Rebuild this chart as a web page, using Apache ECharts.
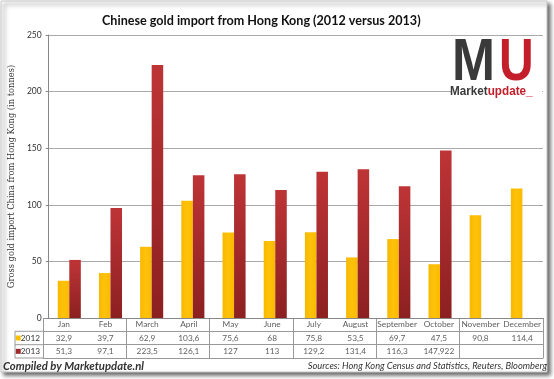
<!DOCTYPE html>
<html><head><meta charset="utf-8">
<script src="https://cdn.jsdelivr.net/npm/echarts@6/dist/echarts.min.js"></script>
<style>html,body{margin:0;padding:0;background:#fff}#c{width:554px;height:379px}</style>
</head><body><div id="c"></div>
<script>
const months = ['Jan','Feb','March','April','May','June','July','August','September','October','November','December'];
const values2012 = [32.9,39.7,62.9,103.6,75.6,68,75.8,53.5,69.7,47.5,90.8,114.4];
const values2013 = [51.3,97.1,223.5,126.1,127,113,129.2,131.4,116.3,147.922,null,null];
const seriesNames = ['2012','2013'];
const yTicks = [0,50,100,150,200,250];

const FONT = 'Lato';
const C2012 = '#FFC000';
const C2013 = '#9E2A2B';
const fmt = v => v == null ? '' : String(v).replace('.', ',');

const chart = echarts.init(document.getElementById('c'), null, {renderer:'canvas'});
const textSeries = (data) => ({
  type:'scatter', xAxisIndex:1, yAxisIndex:1, symbolSize:0, silent:true,
  data: data,
  label:{show:true, position:'inside', formatter:p=>p.value[2], fontFamily:FONT, fontSize:8.3, color:'#333'}
});
chart.setOption({
  animation:false,
  textStyle:{fontFamily:FONT},
  title:{text:'Chinese gold import from Hong Kong (2012 versus 2013)', left:97, top:9,
    textStyle:{fontFamily:FONT, fontSize:12.6, fontWeight:'bold', color:'#111'}},
  grid:[
    {left:43, right:11, top:35, bottom:61},
    {left:43, right:11, top:318, height:40}
  ],
  xAxis:[
    {type:'category', gridIndex:0, data:months, axisLabel:{show:false}, axisTick:{show:false},
     axisLine:{lineStyle:{color:'#888'}}},
    {type:'category', gridIndex:1, data:months, axisLabel:{show:false}, axisTick:{show:false},
     axisLine:{lineStyle:{color:'#999'}},
     splitLine:{show:true, lineStyle:{color:'#999', width:1}}}
  ],
  yAxis:[
    {type:'value', gridIndex:0, min:yTicks[0], max:yTicks[yTicks.length-1], interval:50,
     name:'Gross gold import China from Hong Kong (in tonnes)', nameLocation:'middle', nameGap:27,
     nameTextStyle:{fontFamily:'DejaVu Serif', fontSize:8.3, color:'#333'},
     axisLine:{show:true, lineStyle:{color:'#888'}},
     axisTick:{show:true, length:3, lineStyle:{color:'#888'}},
     axisLabel:{fontFamily:FONT, fontSize:8.5, color:'#333', margin:7},
     splitLine:{lineStyle:{color:'#aaa'}}},
    {type:'category', gridIndex:1, data:['2013','2012',''],
     axisLine:{show:false}, axisTick:{show:false},
     splitLine:{show:true, lineStyle:{color:'#999'}},
     axisLabel:{margin:3, fontFamily:FONT, fontSize:8.3, color:'#333',
       formatter:v=> v==='2012' ? '{a| }'+v : (v==='2013' ? '{b| }'+v : ''),
       rich:{a:{backgroundColor:C2012, width:5, height:5, fontSize:5, padding:0},
             b:{backgroundColor:C2013, width:5, height:5, fontSize:5, padding:0}}}}
  ],
  series:[
    {name:seriesNames[0], type:'bar', data:values2012, barGap:'0%', barCategoryGap:'44%',
     itemStyle:{color:new echarts.graphic.LinearGradient(0,0,1,0,[{offset:0,color:'#F7B800'},{offset:0.5,color:'#FFC20A'},{offset:1,color:'#F9BA00'}])}},
    {name:seriesNames[1], type:'bar', data:values2013, barGap:'0%', barCategoryGap:'44%',
     itemStyle:{color:new echarts.graphic.LinearGradient(0,0,0,1,[{offset:0,color:'#BE3436'},{offset:1,color:'#8C2021'}])}},
    textSeries(months.map((m,i)=>[i,2,m])),
    textSeries(values2012.map((v,i)=>[i,1,fmt(v)])),
    textSeries(values2013.map((v,i)=>[i,0,fmt(v)]))
  ],
  graphic:[
    {type:'rect', z:-10, shape:{x:1, y:1, width:546, height:371},
     style:{fill:'#fff', stroke:'#c8c8c8', lineWidth:1, shadowColor:'rgba(0,0,0,0.6)', shadowBlur:4, shadowOffsetX:3, shadowOffsetY:3}},
    {type:'polyline', z:10, shape:{points:[[43,331.3],[15,331.3],[15,358],[43,358]]}, style:{stroke:'#999', fill:null, lineWidth:1}},
    {type:'line', z:10, shape:{x1:15,y1:344.7,x2:43,y2:344.7}, style:{stroke:'#999', lineWidth:1}},
    {type:'rect', z:5, shape:{x:451, y:36, width:91, height:76}, style:{fill:'#fff'}},
    {type:'text', z:6, x:452, y:33, scaleX:0.86, style:{text:'M', fontFamily:'Liberation Sans', fontWeight:'bold', fontSize:60, fill:'#3A3A3A'}},
    {type:'text', z:6, x:499, y:33, scaleX:0.8, style:{text:'U', fontFamily:'Liberation Sans', fontWeight:'bold', fontSize:60, fill:'#C41E2A'}},
    {type:'text', z:6, x:450, y:85, scaleX:0.9, style:{text:'{a|Market}{b|update_}', fontFamily:'Liberation Sans', fontWeight:'bold', fontSize:13,
      rich:{a:{fill:'#3A3A3A', fontFamily:'Liberation Sans', fontWeight:'bold', fontSize:13}, b:{fill:'#C41E2A', fontFamily:'Liberation Sans', fontWeight:'bold', fontSize:13}}}},
    {type:'text', z:6, x:3, y:361, style:{text:'Compiled by Marketupdate.nl', fontFamily:FONT, fontStyle:'italic', fontWeight:'bold', fontSize:11.3, fill:'#333'}},
    {type:'text', z:6, x:547, y:361, style:{text:'Sources: Hong Kong Census and Statistics, Reuters, Bloomberg', align:'right', fontFamily:FONT, fontStyle:'italic', fontSize:9.3, fill:'#333'}}
  ]
});
</script></body></html>
